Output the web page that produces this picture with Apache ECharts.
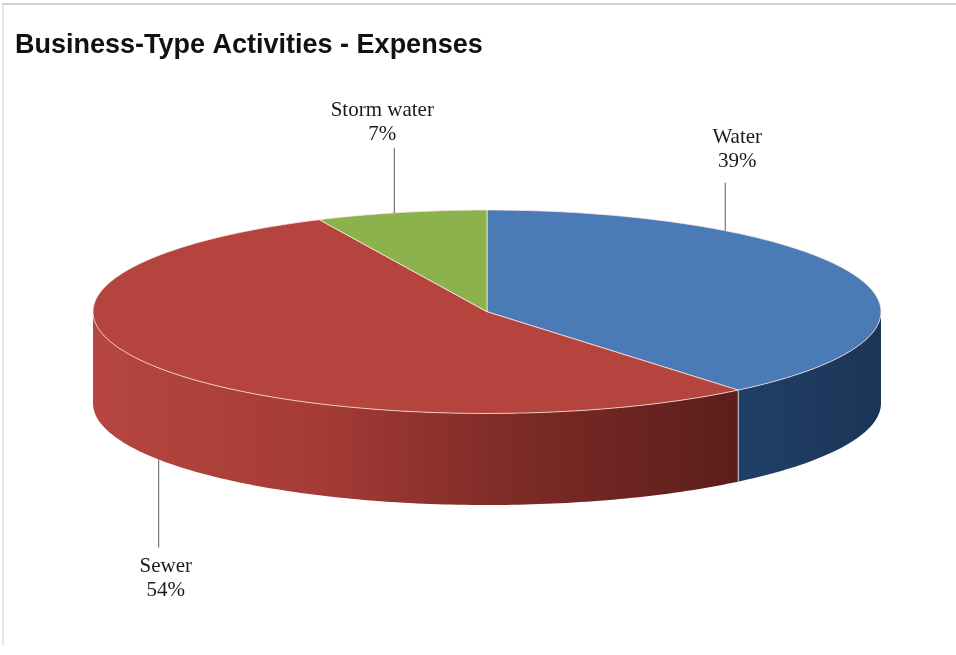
<!DOCTYPE html>
<html>
<head>
<meta charset="utf-8">
<title>Business-Type Activities - Expenses</title>
<script src="https://cdn.jsdelivr.net/npm/echarts@6/dist/echarts.min.js"></script>
<style>
  html, body { margin: 0; padding: 0; background: #ffffff; }
  #chart { width: 956px; height: 655px; }
</style>
</head>
<body>
<div id="chart"></div>
<script>
// Expense shares by business-type activity (percent of total)
const categories = ['Water', 'Sewer', 'Storm water'];
const values = [39, 54, 7];

// Colours for each slice: top face and side wall
const topColors = ['#4a7bb7', '#b5443f', '#8cb24d'];
const sideColors = [
  ['#213f66', '#1b3556'],
  ['#b6463f', '#a63c37', '#7c2a26', '#5b1e1b'],
  ['#6d8c37', '#5a752d']
];

// Thickness of the disc, in y-axis units (the top face is the unit ellipse)
const DEPTH = 0.9;

// Where each label's leader line meets the rim: fraction along the slice,
// which rim (top edge or bottom edge of the wall), leader length and text offset (px)
const labelLayout = [
  { frac: 0.265, rim: 'top', len: -48, dx: 12, dy: -33 },
  { frac: 0.494, rim: 'bottom', len: 88, dx: 7, dy: 31 },
  { frac: 0.46, rim: 'top', len: -65, dx: -12, dy: -25 }
];

const total = values.reduce((a, b) => a + b, 0);
const starts = [];
values.reduce((acc, v, i) => { starts[i] = acc; return acc + v; }, 0);

const seriesData = categories.map((name, i) => ({ name, value: [values[i], starts[i]] }));

function rad(deg) { return deg * Math.PI / 180; }

function arcPoints(api, a0, a1, yOff) {
  // sample ellipse from angle a0 to a1 (degrees), data space -> pixels
  const pts = [];
  const n = Math.max(2, Math.ceil(Math.abs(a1 - a0)));
  for (let k = 0; k <= n; k++) {
    const a = a0 + (a1 - a0) * k / n;
    pts.push(api.coord([Math.cos(rad(a)), Math.sin(rad(a)) + yOff]));
  }
  return pts;
}

function renderItem(params, api) {
  const i = params.dataIndex;
  const v = api.value(0);
  const s = api.value(1);
  // clockwise from 12 o'clock
  const aStart = 90 - 360 * s / total;
  const aEnd = 90 - 360 * (s + v) / total;
  const children = [];

  // visible front wall: angles in [-180, 0] (or the same band one turn later)
  [[-180, 0], [-540, -360]].forEach(([lo, hi]) => {
    const from = Math.min(aStart, hi);
    const to = Math.max(aEnd, lo);
    if (from > to) {
      const topArc = arcPoints(api, from, to, 0);
      const botArc = arcPoints(api, to, from, -DEPTH);
      const stops = sideColors[i].map((c, k, arr) => ({ offset: k / (arr.length - 1), color: c }));
      children.push({
        type: 'polygon',
        shape: { points: topArc.concat(botArc) },
        style: { fill: new echarts.graphic.LinearGradient(0, 0, 1, 0, stops), stroke: null }
      });
      // vertical seams where a slice boundary lies on the front wall
      [from, to].forEach(a => {
        if (a > lo + 0.5 && a < hi - 0.5) {
          const p1 = api.coord([Math.cos(rad(a)), Math.sin(rad(a))]);
          const p2 = api.coord([Math.cos(rad(a)), Math.sin(rad(a)) - DEPTH]);
          children.push({
            type: 'line',
            shape: { x1: p1[0], y1: p1[1], x2: p2[0], y2: p2[1] },
            style: { stroke: 'rgba(255,255,255,0.55)', lineWidth: 1 }
          });
        }
      });
    }
  });

  // top face wedge
  const centre = api.coord([0, 0]);
  children.push({
    type: 'polygon',
    shape: { points: [centre].concat(arcPoints(api, aStart, aEnd, 0)) },
    style: { fill: topColors[i], stroke: 'rgba(255,235,225,0.75)', lineWidth: 1 }
  });

  // label with a vertical leader line
  const L = labelLayout[i];
  const la = aStart + (aEnd - aStart) * L.frac;
  const yOff = L.rim === 'bottom' ? -DEPTH : 0;
  const anchor = api.coord([Math.cos(rad(la)), Math.sin(rad(la)) + yOff]);
  const endY = anchor[1] + L.len;
  children.push({
    type: 'line',
    shape: { x1: anchor[0], y1: anchor[1], x2: anchor[0], y2: endY },
    style: { stroke: '#5a5a5a', lineWidth: 1 }
  });
  const pct = Math.round(v / total * 100);
  children.push({
    type: 'text',
    style: {
      text: categories[i] + '\n' + pct + '%',
      x: anchor[0] + L.dx,
      y: endY + L.dy,
      align: 'center',
      verticalAlign: 'middle',
      font: '21px "Liberation Serif", "Times New Roman", serif',
      lineHeight: 24,
      fill: '#1a1a1a'
    }
  });

  return { type: 'group', children };
}

const chart = echarts.init(document.getElementById('chart'), null, { renderer: 'canvas' });
chart.setOption({
  backgroundColor: '#ffffff',
  animation: false,
  title: {
    text: 'Business-Type Activities - Expenses',
    left: 10,
    top: 27,
    textStyle: {
      fontFamily: '"Liberation Sans", Arial, sans-serif',
      fontWeight: 'bold',
      fontSize: 27,
      color: '#111111'
    }
  },
  graphic: [
    { type: 'line', shape: { x1: 2, y1: 4, x2: 956, y2: 4 }, style: { stroke: '#d2d2d2', lineWidth: 2 } },
    { type: 'line', shape: { x1: 3, y1: 4, x2: 3, y2: 645 }, style: { stroke: '#dcdcdc', lineWidth: 1.5 } }
  ],
  grid: { left: 93, right: 75, top: 210, bottom: 150 },
  xAxis: { type: 'value', min: -1, max: 1, show: false },
  yAxis: { type: 'value', min: -(1 + DEPTH), max: 1, show: false },
  series: [{
    type: 'custom',
    coordinateSystem: 'cartesian2d',
    renderItem: renderItem,
    encode: { x: 0, y: 1 },
    data: seriesData,
    clip: false
  }]
});
</script>
</body>
</html>
